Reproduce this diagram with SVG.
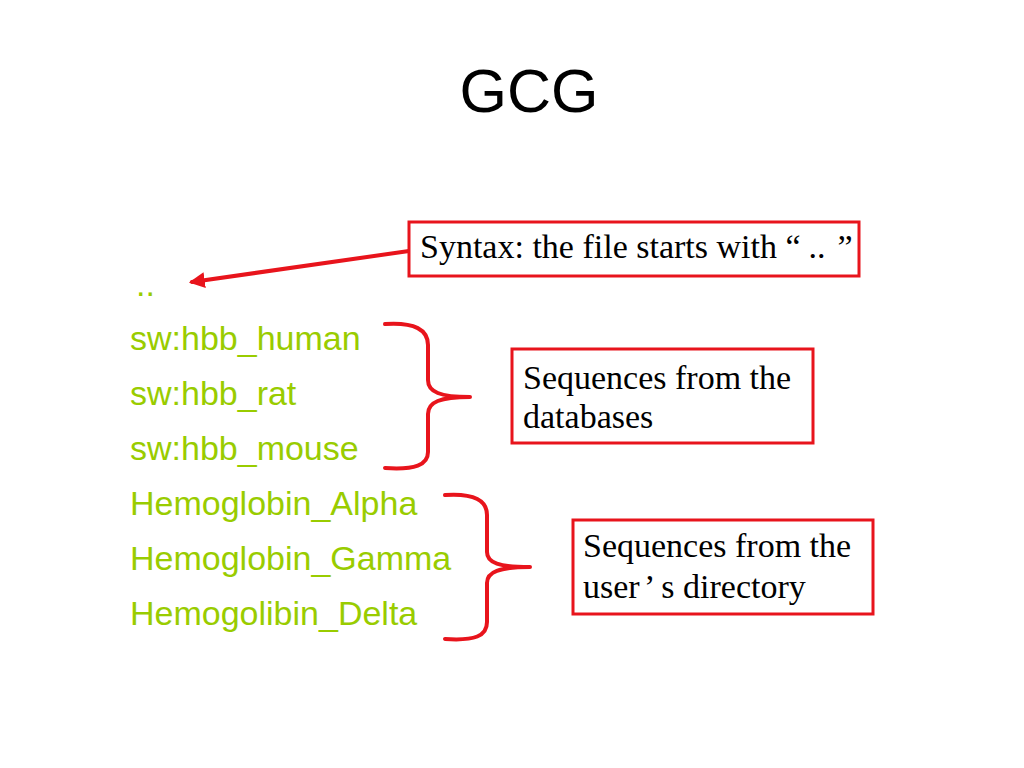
<svg xmlns="http://www.w3.org/2000/svg" width="1024" height="768" viewBox="0 0 1024 768">
<style>
.item{font-family:"Liberation Sans",Arial,sans-serif;font-size:34px;fill:#99CC00}
.note{font-family:"Liberation Serif","Times New Roman",serif;font-size:34px;fill:#000}
.box{fill:#fff;stroke:#e8141c;stroke-width:3}
.red{fill:none;stroke:#e8141c;stroke-width:4;stroke-linecap:round;stroke-linejoin:round}
</style>
<defs>
<marker id="ah" viewBox="0 0 10 10" refX="8" refY="5" markerWidth="4" markerHeight="4" orient="auto">
<path d="M0,0 L10,5 L0,10 Z" fill="#e8141c"/>
</marker>
</defs>
<rect width="1024" height="768" fill="#fff"/>
<text x="529" y="112" text-anchor="middle" font-family="Liberation Sans,Arial,sans-serif" font-size="61" fill="#000">GCG</text>
<g id="list">
<text class="item" x="136" y="296">..</text>
<text class="item" x="130" y="350">sw:hbb_human</text>
<text class="item" x="130" y="405">sw:hbb_rat</text>
<text class="item" x="130" y="460">sw:hbb_mouse</text>
<text class="item" x="130" y="515">Hemoglobin_Alpha</text>
<text class="item" x="130" y="570">Hemoglobin_Gamma</text>
<text class="item" x="130" y="625">Hemogolibin_Delta</text>
</g>
<g id="connectors">
<line class="red" x1="409" y1="251" x2="192" y2="282" stroke-width="3" marker-end="url(#ah)"/>
<path id="brace1" class="red" d="M385,324 C415,322 428,330 428,345 L428,380 C428,392 440,397 470,397 C440,397 428,402 428,414 L428,452 C428,465 415,470 385,468"/>
<path id="brace2" class="red" d="M445,495 C475,493 487,501 487,515 L487,552 C487,563 499,567 530,567 C499,567 487,572 487,583 L487,622 C487,636 475,641 445,639"/>
</g>
<g id="syntax">
<rect class="box" x="409" y="222" width="450" height="54"/>
<text class="note" x="420" y="258">Syntax: the file starts with “<tspan dx="8">..</tspan><tspan dx="12">”</tspan></text>
</g>
<g id="databases">
<rect class="box" x="512" y="349" width="301" height="94"/>
<text class="note" x="523" y="389">Sequences from the</text>
<text class="note" x="523" y="428">databases</text>
</g>
<g id="userdir">
<rect class="box" x="573" y="520" width="300" height="94"/>
<text class="note" x="583" y="557">Sequences from the</text>
<text class="note" x="583" y="598">user<tspan dx="3">’</tspan><tspan dx="8">s directory</tspan></text>
</g>
</svg>
